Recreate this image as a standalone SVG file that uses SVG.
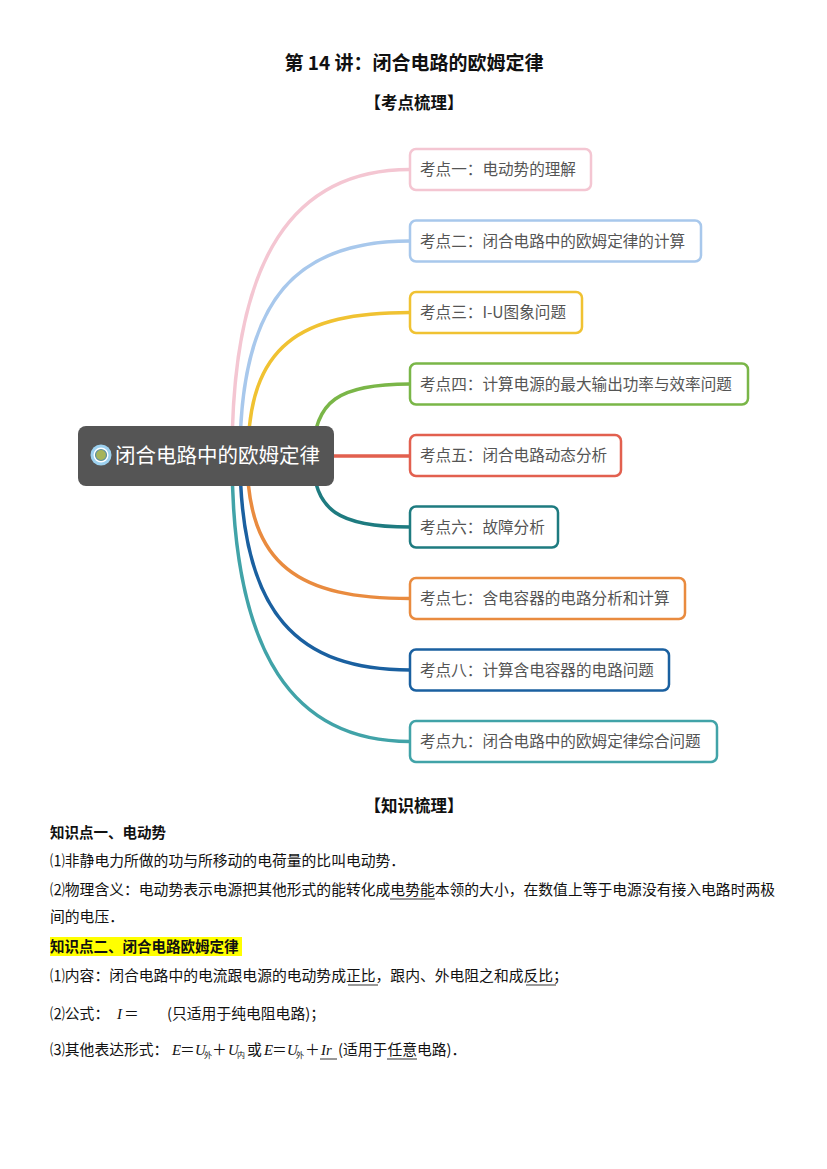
<svg xmlns="http://www.w3.org/2000/svg" width="827" height="1169" viewBox="0 0 827 1169">
<style>
.title{font-family:"Noto Sans CJK SC","Liberation Sans",sans-serif;font-weight:bold;fill:#111}
.box{fill:#fff;stroke-width:2.5}
.bt{font-family:"Noto Sans CJK SC","Liberation Sans",sans-serif;font-size:15.6px;fill:#555}
.con{fill:none;stroke-width:3.5;stroke-linecap:round}
.body{font-family:"Noto Sans CJK SC","Liberation Sans",sans-serif;font-size:14.8px;fill:#111}
.hd{font-family:"Noto Sans CJK SC","Liberation Sans",sans-serif;font-size:14.5px;font-weight:bold;fill:#111}
.it{font-family:"Liberation Serif",serif;font-style:italic}
.sub{font-size:8px}
.ul{stroke:#333;stroke-width:1}
</style>
<rect width="827" height="1169" fill="#fff"/>
<text class="title" x="414" y="70" font-size="19" text-anchor="middle">第 14 讲：闭合电路的欧姆定律</text>
<text class="title" x="414" y="109" font-size="16.5" text-anchor="middle">【考点梳理】</text>

<g id="connectors">
<path class="con" stroke="#f4c6d2" d="M232,456 C232,255 295,169.5 410,169.5"/>
<path class="con" stroke="#a8c8ec" d="M240,456 C240,295 300,241 410,241"/>
<path class="con" stroke="#f0c232" d="M248,456 C248,345 300,312.5 410,312.5"/>
<path class="con" stroke="#7ab648" d="M313,456 C313,400 340,384 410,384"/>
<path class="con" stroke="#e2604f" stroke-width="4" d="M320,456 L410,456"/>
<path class="con" stroke="#1e7b80" d="M313,456 C313,512 340,527 410,527"/>
<path class="con" stroke="#e98b3f" d="M247,456 C247,567 300,598.5 410,598.5"/>
<path class="con" stroke="#1a60a0" d="M240,456 C240,617 300,670 410,670"/>
<path class="con" stroke="#41a3a8" d="M232,456 C232,657 295,741.5 410,741.5"/>
</g>

<g id="center">
<rect x="78" y="426" width="256" height="60" rx="8" fill="#555555"/>
<circle cx="101" cy="455" r="10.5" fill="#9dd1ef"/>
<circle cx="101" cy="455" r="7.5" fill="#fff"/>
<circle cx="101" cy="455" r="5.5" fill="#a6b45a" stroke="#5b8fa3" stroke-width="1.2"/>
<text x="115" y="463" font-family="Noto Sans CJK SC, sans-serif" font-size="20.5" fill="#fff">闭合电路中的欧姆定律</text>
</g>

<g id="n1"><rect class="box" x="410" y="149" width="181" height="41" rx="6" stroke="#f4c6d2"/><text class="bt" x="420" y="175">考点一：电动势的理解</text></g>
<g id="n2"><rect class="box" x="410" y="220.5" width="291" height="41" rx="6" stroke="#a8c8ec"/><text class="bt" x="420" y="246.5">考点二：闭合电路中的欧姆定律的计算</text></g>
<g id="n3"><rect class="box" x="410" y="292" width="172" height="41" rx="6" stroke="#f0c232"/><text class="bt" x="420" y="318">考点三：I-U图象问题</text></g>
<g id="n4"><rect class="box" x="410" y="363.5" width="338" height="41" rx="6" stroke="#7ab648"/><text class="bt" x="420" y="389.5">考点四：计算电源的最大输出功率与效率问题</text></g>
<g id="n5"><rect class="box" x="410" y="435" width="211" height="41" rx="6" stroke="#e2604f"/><text class="bt" x="420" y="461">考点五：闭合电路动态分析</text></g>
<g id="n6"><rect class="box" x="410" y="506.5" width="148" height="41" rx="6" stroke="#1e7b80"/><text class="bt" x="420" y="532.5">考点六：故障分析</text></g>
<g id="n7"><rect class="box" x="410" y="578" width="275" height="41" rx="6" stroke="#e98b3f"/><text class="bt" x="420" y="604">考点七：含电容器的电路分析和计算</text></g>
<g id="n8"><rect class="box" x="410" y="649.5" width="259" height="41" rx="6" stroke="#1a60a0"/><text class="bt" x="420" y="675.5">考点八：计算含电容器的电路问题</text></g>
<g id="n9"><rect class="box" x="410" y="721" width="307" height="41" rx="6" stroke="#41a3a8"/><text class="bt" x="420" y="747">考点九：闭合电路中的欧姆定律综合问题</text></g>

<text class="title" x="414" y="812" font-size="16.5" text-anchor="middle">【知识梳理】</text>
<text class="hd" x="50" y="838">知识点一、电动势</text>
<text class="body" x="50" y="866">⑴非静电力所做的功与所移动的电荷量的比叫电动势．</text>
<text class="body" x="50" y="895">⑵物理含义：电动势表示电源把其他形式的能转化成电势能本领的大小，在数值上等于电源没有接入电路时两极</text>
<line class="ul" x1="390" y1="899" x2="435" y2="899"/>
<text class="body" x="50" y="922">间的电压．</text>

<rect x="50" y="937" width="192" height="19" fill="#ffff00"/>
<text class="hd" x="50" y="952">知识点二、闭合电路欧姆定律</text>
<text class="body" x="50" y="981">⑴内容：闭合电路中的电流跟电源的电动势成正比，跟内、外电阻之和成反比；</text>
<line class="ul" x1="348" y1="985" x2="378" y2="985"/>
<line class="ul" x1="526" y1="985" x2="556" y2="985"/>

<text class="body" x="50" y="1019">⑵公式：</text>
<text class="body it" x="117" y="1019">I</text>
<text class="body" x="124" y="1019">＝</text>
<text class="body" x="167" y="1019">(只适用于纯电阻电路)；</text>

<text class="body" x="50" y="1055">⑶其他表达形式：</text>
<text class="body it" x="172" y="1055">E</text>
<text class="body" x="180" y="1055">＝</text>
<text class="body it" x="195" y="1055">U</text>
<text class="body sub" x="204" y="1058">外</text>
<text class="body" x="212" y="1055">＋</text>
<text class="body it" x="228" y="1055">U</text>
<text class="body sub" x="237" y="1058">内</text>
<text class="body" x="247" y="1055">或</text>
<text class="body it" x="264" y="1055">E</text>
<text class="body" x="272" y="1055">＝</text>
<text class="body it" x="287" y="1055">U</text>
<text class="body sub" x="296" y="1058">外</text>
<text class="body" x="305" y="1055">＋</text>
<text class="body it" x="321" y="1055">Ir</text>
<line class="ul" x1="320" y1="1059" x2="337" y2="1059"/>
<text class="body" x="338" y="1055">(适用于任意电路)．</text>
<line class="ul" x1="387" y1="1059" x2="417" y2="1059"/>
</svg>
